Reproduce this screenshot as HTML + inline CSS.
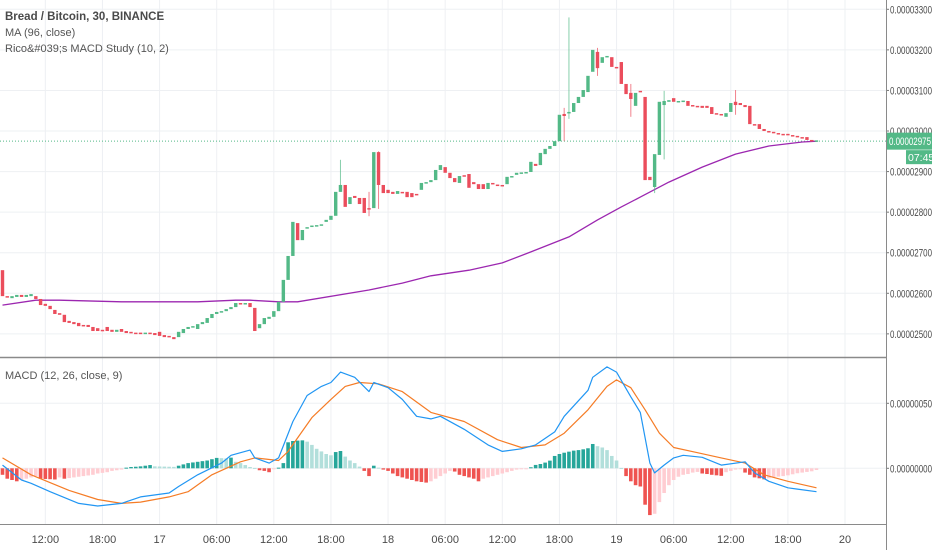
<!DOCTYPE html>
<html><head><meta charset="utf-8"><style>
html,body{margin:0;padding:0;background:#fff;}
svg{display:block;font-family:"Liberation Sans",sans-serif;}
</style></head><body>
<svg id="chart" width="932" height="550" viewBox="0 0 932 550" xmlns="http://www.w3.org/2000/svg">
<rect x="0" y="0" width="932" height="550" fill="#ffffff"/>
<g id="grid"></g>
<g id="ma"></g>
<g id="candles"></g>
<g id="macd"></g>
<g id="axes"></g>
<text x="5" y="20" font-size="11.5" font-weight="bold" fill="#4a4a4a">Bread / Bitcoin, 30, BINANCE</text>
<text x="5" y="36" font-size="11" fill="#555">MA (96, close)</text>
<text x="5" y="52" font-size="11" fill="#555">Rico&amp;#039;s MACD Study (10, 2)</text>
<text x="5" y="379" font-size="11" fill="#555">MACD (12, 26, close, 9)</text>
</svg>
<script>
const opens=[2657,2593,2588,2591,2596,2591,2593,2593,2586,2574,2569,2559,2551,2547,2532,2529,2527,2522,2522,2517,2514,2510,2517,2510,2505,2512,2507,2505,2503,2503,2502,2503,2502,2505,2497,2495,2492,2492,2502,2512,2517,2512,2524,2527,2539,2549,2554,2556,2561,2566,2576,2574,2576,2564,2514,2524,2537,2542,2556,2579,2633,2692,2773,
2731,2761,2766,2766,2768,2776,2781,2791,2850,2867,2820,2840,2835,2835,2810,2810,2948,2867,2855,2850,2845,2850,2850,2847,2845,2855,2872,2874,2879,2904,2911,2897,2884,2872,2891,2894,2874,2869,2869,2857,2872,2868,2867,2869,2887,2892,2897,2897,2899,2919,2916,2943,2956,2963,2975,3042,3044,3047,3069,3084,3096,3146,3195,3168,3182,
3182,3158,3170,3116,3094,3062,3099,3084,2887,2862,2941,3064,3072,3081,3072,3073,3074,3064,3062,3062,3062,3059,3044,3042,3035,3047,3072,3069,3064,3062,3017,3017,3005,3000,2998,2995,2993,2993,2990,2988,2985,2985,2978,2975];
const closes=[2593,2591,2593,2596,2591,2596,2598,2586,2571,2569,2561,2549,2547,2529,2527,2524,2519,2519,2517,2507,2507,2507,2507,2505,2510,2505,2502,2502,2502,2502,2503,2502,2497,2495,2492,2492,2487,2505,2512,2517,2519,2524,2529,2539,2549,2554,2556,2561,2566,2576,2574,2576,2566,2507,2524,2539,2542,2556,2579,2633,2692,2776,2731,
2756,2763,2767,2768,2770,2781,2791,2850,2867,2813,2837,2835,2820,2798,2808,2948,2867,2847,2847,2845,2852,2849,2837,2837,2844,2872,2874,2879,2904,2916,2897,2884,2874,2889,2889,2860,2869,2857,2857,2872,2869,2866,2865,2887,2889,2897,2898,2899,2924,2914,2946,2956,2963,2975,3040,3037,3047,3069,3084,3101,3136,3200,3155,3182,3185,
3158,3155,3116,3091,3079,3094,3096,2879,2879,2943,3072,3074,3076,3072,3074,3075,3062,3062,3059,3057,3057,3042,3042,3040,3044,3069,3064,3064,3059,3017,3015,3005,3000,2998,2995,2993,2992,2990,2988,2985,2983,2978,2975,2977];
const wickIdx=[71,77,79,118,119,125,130,132,137,139,154];
const wickHi=[2929,2850,2950,3057,3280,3205,3170,3116,2887,3099,3101];
const wickLo=[2850,2790,2808,2975,3030,3136,3150,3035,2847,2930,3040];
const maIdx=[0,7,12,25,41,49,52,58,62,77,84,90,98,105,111,119,125,130,134,140,147,154,161,168,171];
const maVal=[2571,2583,2583,2579,2579,2583,2583,2579,2579,2608,2625,2643,2657,2675,2702,2739,2781,2813,2837,2874,2911,2943,2963,2973,2975];
const macdIdx=[0,4,6,10,16,20,25,29,35,37,41,46,48,52,53,56,58,61,64,67,69,71,74,77,78,81,84,87,90,92,97,102,105,109,112,116,118,123,124,127,129,132,134,136,137,139,141,143,147,151,156,158,161,165,167,171];
const macdVal=[2.5,-9,-11.5,-18,-27,-29,-27,-22,-19,-14,-5,4,10,14,8,4,8,36,56,63,66,74,70,59,66,62,53,40,38,40,30,18,13,15,18,28,40,60,70,78,74,55,43,4,-3.5,2.5,8,10,8.5,2.5,5,-3.5,-10,-15,-16,-18];
const sigIdx=[0,6,14,20,25,29,35,39,44,50,53,58,60,65,69,72,75,79,84,90,97,104,109,114,118,123,127,129,132,135,138,141,146,151,156,160,165,171];
const sigVal=[8,-5,-17,-24,-27,-26,-22,-18,-5,5,8,6,13,39,53,63,66,65,59,43,36,22,16,18,27,45,63,68,62,45,27,16,12,8,4,-5,-10,-15];
const hist=[-5,-8,-9,-10,-9,-8,-7,-6,-8,-8.2,-8.4,-8.6,-7,-8,-7.5,-7,-6.5,-6,-5.5,-5,-4,-3.5,-3,-2,-1.5,-1,0.5,1,1.2,1.5,2,2.5,1.5,1.4,1.3,1.2,1.1,2,3,4,4.5,5,5.5,6,7,8,7.8,7.6,8.2,5,4,2.5,1,0.3,-1.5,-2,-3,-0.3,0.5,4,20,21,21.3,21.5,20.5,18,15,13,11,10,12.5,13.3,9,6,4,1.3,-2,-6,2,0.5,-1,-2,-4,-6,-7,-8,-9,-10,-10.5,-11,-10,-8,-6,-4,-2,-2.5,-5,-6,-7,-8,-10,-8,-7,-6,-5,-4,-3,-2,-1,-0.5,-0.2,0.8,2.6,3.3,4.4,5.9,9.5,11,12,12.8,13.6,14,14.6,15.4,18.7,17,16,14,9.5,6,0.3,-6,-10,-13,-14,-28,-36,-35,-26,-19,-13,-9,-6.5,-5,-4.4,-3.3,-2.8,-4,-4.4,-5,-5.4,-5.8,-3,-2,-1,-0.5,-3.3,-5,-7,-7.7,-8.5,-7.7,-7,-6.4,-6,-5.4,-4.6,-3.8,-3.3,-2.8,-2.3,-1.3];
const priceTicks=[3300,3200,3100,3000,2900,2800,2700,2600,2500];
const macdTicks=[50,0];
const timeIdx=[9,21,33,45,57,69,81,93,105,117,129,141,153,165,177];
const timeLabels=["12:00","18:00","17","06:00","12:00","18:00","18","06:00","12:00","18:00","19","06:00","12:00","18:00","20"];
const lastPrice=2975;

const NS="http://www.w3.org/2000/svg";
const xOf=i=>2.5+i*4.76;
const yP=p=>9.3+(3300-p)*0.4057;
const yM=v=>468.3-v*1.3;
const AX=886;
function mk(tag,attrs,parent){const e=document.createElementNS(NS,tag);for(const k in attrs)e.setAttribute(k,attrs[k]);parent.appendChild(e);return e;}
const grid=document.getElementById('grid'),axes=document.getElementById('axes'),cg=document.getElementById('candles'),mg=document.getElementById('macd'),mag=document.getElementById('ma');

timeIdx.forEach((ti,k)=>{
  const x=xOf(ti);
  if(x<AX){const l=mk('line',{x1:x,x2:x,y1:0,y2:524,stroke:'#eef0f3','stroke-width':1},grid);
  
  }
  const t=mk('text',{x:x,y:543,'font-size':11,fill:'#4a4a4a','text-anchor':'middle'},axes);
  t.textContent=timeLabels[k];
  
  
});
priceTicks.forEach(p=>{
  const y=yP(p);
  const l=mk('line',{x1:0,x2:AX,y1:y,y2:y,stroke:'#eef0f3','stroke-width':1},grid);
  
  
  mk('line',{x1:AX,x2:AX+3,y1:y,y2:y,stroke:'#777'},axes);
  const t=mk('text',{x:AX+4,y:y+4,'font-size':11,fill:'#4a4a4a',textLength:42,lengthAdjust:'spacingAndGlyphs'},axes);
  t.textContent=(p/1e8).toFixed(8);
  
  
});
macdTicks.forEach(v=>{
  const y=yM(v);
  const l=mk('line',{x1:0,x2:AX,y1:y,y2:y,stroke:'#eef0f3','stroke-width':1},grid);
  
  
  mk('line',{x1:AX,x2:AX+3,y1:y,y2:y,stroke:'#777'},axes);
  const t=mk('text',{x:AX+4,y:y+4,'font-size':11,fill:'#4a4a4a',textLength:42,lengthAdjust:'spacingAndGlyphs'},axes);
  t.textContent=(v/1e8).toFixed(8);
  
  
});

const lp=mk('line',{x1:0,x2:AX,y1:yP(lastPrice),y2:yP(lastPrice),stroke:'#53b987','stroke-width':1,'stroke-dasharray':'1,2'},grid);



let d='';maIdx.forEach((i,k)=>{d+=(k?'L':'M')+xOf(i).toFixed(1)+','+yP(maVal[k]).toFixed(1);});
const maPath=mk('path',{d:d,fill:'none',stroke:'#9c27b0','stroke-width':1.3,'stroke-linejoin':'round'},mag);



opens.forEach((o,i)=>{
  const c=closes[i],x=xOf(i),up=c>=o,col=up?'#53b987':'#eb4d5c';
  const w=wickIdx.indexOf(i);
  if(w>=0){const wl=mk('line',{x1:x,x2:x,y1:yP(wickHi[w]),y2:yP(wickLo[w]),stroke:col,'stroke-width':1,'stroke-opacity':0.7},cg);
    
    }
  const y1=yP(Math.max(o,c)),y2=yP(Math.min(o,c));
  const r=mk('rect',{x:x-1.7,y:y1,width:3.4,height:Math.max(1.5,y2-y1),fill:col},cg);
  
  
});

hist.forEach((v,i)=>{
  const prev=i>0?hist[i-1]:v;
  let col;
  if(v>=0)col=v>=prev?'#26a69a':'#b2dfdb';else col=v<=prev?'#ef5350':'#ffcdd2';
  const y0=yM(0),y1=yM(v);
  const r=mk('rect',{x:xOf(i)-1.8,y:Math.min(y0,y1),width:3.6,height:Math.max(1,Math.abs(y1-y0)),fill:col},mg);
  
  
});
d='';sigIdx.forEach((i,k)=>{d+=(k?'L':'M')+xOf(i).toFixed(1)+','+yM(sigVal[k]).toFixed(1);});
const sp=mk('path',{d:d,fill:'none',stroke:'#f57c26','stroke-width':1.2,'stroke-linejoin':'round'},mg);


d='';macdIdx.forEach((i,k)=>{d+=(k?'L':'M')+xOf(i).toFixed(1)+','+yM(macdVal[k]).toFixed(1);});
const mp=mk('path',{d:d,fill:'none',stroke:'#2196f3','stroke-width':1.2,'stroke-linejoin':'round'},mg);



const sep=mk('line',{x1:0,x2:AX,y1:357.5,y2:357.5,stroke:'#8a8a8a','stroke-width':1.5},axes);


const ta=mk('line',{x1:0,x2:AX,y1:524.5,y2:524.5,stroke:'#8a8a8a','stroke-width':1},axes);


const ra=mk('line',{x1:AX+0.5,x2:AX+0.5,y1:0,y2:550,stroke:'#8a8a8a','stroke-width':1},axes);



const yl=yP(lastPrice);
const tag=mk('rect',{x:AX+1,y:yl-8.5,width:46,height:17,fill:'#53b987'},axes);


const tt=mk('text',{x:AX+3,y:yl+4,'font-size':11,fill:'#fff',textLength:42,lengthAdjust:'spacingAndGlyphs'},axes);
tt.textContent=(lastPrice/1e8).toFixed(8);


const ct=mk('rect',{x:906,y:yl+9,width:26,height:14,fill:'#53b987'},axes);


const ctt=mk('text',{x:908,y:yl+20,'font-size':10.5,fill:'#fff'},axes);
ctt.textContent='07:45';


</script>
</body></html>
